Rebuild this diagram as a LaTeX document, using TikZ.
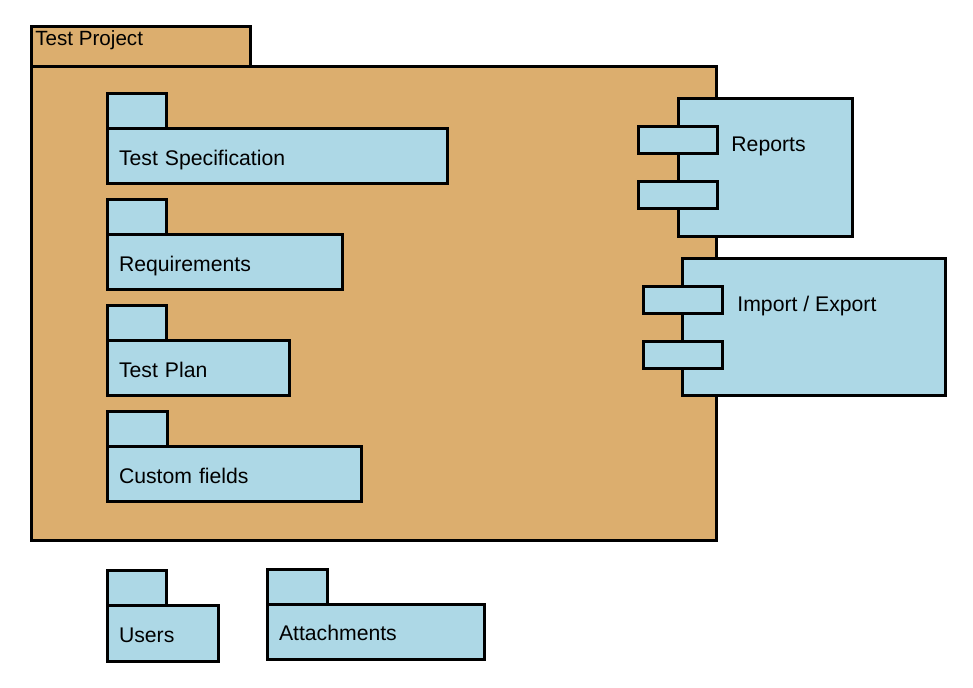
\documentclass[tikz,border=0pt]{standalone}
\usepackage{fontspec}
\setmainfont{Liberation Sans}
\usetikzlibrary{positioning}
\definecolor{projorange}{RGB}{220,174,110}
\definecolor{partblue}{RGB}{173,216,230}
\tikzset{
	outline/.style={draw=black, line width=1.5pt, outer sep=0pt},
	tabbox/.style={outline, fill=partblue, minimum width=29.5pt, minimum height=17.5pt, inner sep=0pt, anchor=south west},
	bodybox/.style={outline, fill=partblue, minimum height=27.5pt, text width=#1, text height=9pt, text depth=0pt, inner xsep=6pt, inner ysep=0pt, align=left, anchor=north west, font=\fontsize{10.6}{12}\selectfont},
	compbox/.style={outline, fill=partblue, inner sep=0pt, anchor=north west},
	portbox/.style={outline, fill=partblue, minimum width=39.5pt, minimum height=13.5pt, inner sep=0pt, anchor=north west},
	plaintext/.style={inner sep=0pt, anchor=base west, font=\fontsize{10.6}{12}\selectfont}
}
\begin{document}
\begin{tikzpicture}[x=0.5pt, y=-0.5pt]
			\useasboundingbox (0,0) rectangle (973,688);
			% the project package
			\node[outline, fill=projorange, inner sep=0pt, anchor=north west, minimum width=342.5pt, minimum height=237pt] (proj) at (31,67) {};
			\node[outline, fill=projorange, inner sep=0pt, anchor=south west, minimum width=109.5pt, minimum height=20pt] (projtab) at (proj.north west) {};
			\node[plaintext, font=\fontsize{10.3}{12}\selectfont] (projtext) at ([xshift=2pt, yshift=-9.5pt]projtab.north west) {Test Project};
			% packages inside
			\node[bodybox=158pt] (spec) at (107,129) {Test Specification};
			\node[tabbox] (spectab) at (spec.north west) {};
			\node[bodybox=105.5pt] (req) at (107,235) {Requirements};
			\node[tabbox] (reqtab) at (req.north west) {};
			\node[bodybox=79pt] (plan) at (107,341) {Test Plan};
			\node[tabbox] (plantab) at (plan.north west) {};
			\node[bodybox=115pt] (custom) at (107,447) {Custom fields};
			\node[tabbox, minimum width=30pt] (customtab) at (custom.north west) {};
			% components
			\node[compbox, minimum width=87pt, minimum height=69pt] (rep) at (678,99) {};
			\node[portbox] (repporta) at ([xshift=-20pt, yshift=-14pt]rep.north west) {};
			\node[portbox] (repportb) at ([xshift=-20pt, yshift=-41.5pt]rep.north west) {};
			\node[plaintext] (reptext) at ([xshift=26.5pt, yshift=-26.5pt]rep.north west) {Reports};
			\node[compbox, minimum width=131.5pt, minimum height=68.5pt] (imp) at (682,259) {};
			\node[portbox] (impporta) at ([xshift=-19.5pt, yshift=-14pt]imp.north west) {};
			\node[portbox] (impportb) at ([xshift=-19.5pt, yshift=-41.5pt]imp.north west) {};
			\node[plaintext] (imptext) at ([xshift=27.5pt, yshift=-26.5pt]imp.north west) {Import / Export};
			% packages outside
			\node[bodybox=43.5pt, minimum height=28pt] (users) at (107,605) {Users};
			\node[tabbox] (userstab) at (users.north west) {};
			\node[bodybox=96.5pt] (att) at (267,604) {Attachments};
			\node[tabbox, minimum width=30pt] (atttab) at (att.north west) {};
		\end{tikzpicture}
\end{document}
